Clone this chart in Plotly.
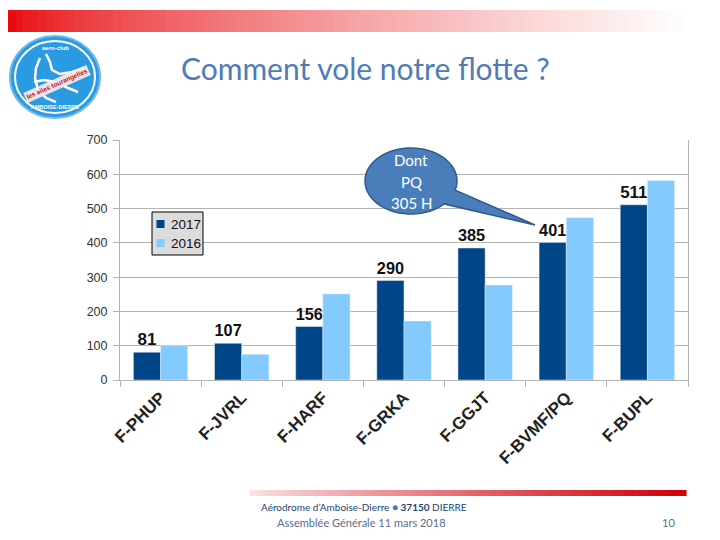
import math
import plotly.graph_objects as go

# ---------------- data ----------------
aircraft = ["F-PHUP", "F-JVRL", "F-HARF", "F-GRKA", "F-GGJT", "F-BVMF/PQ", "F-BUPL"]
hours_2017 = [81, 107, 156, 290, 385, 401, 511]
hours_2016 = [100, 75, 251, 172, 277, 473, 582]
y_tick_values = [0, 100, 200, 300, 400, 500, 600, 700]
series_names = ["2017", "2016"]
callout_lines = ["Dont", "PQ", "305 H"]

# ---------------- geometry helpers (pixel -> paper) ----------------
W, H = 720, 540
OFF = 8  # page body margin offset
L, T = 120 - OFF, 140 - OFF
PW, PH = 568, 240
R, B = W - L - PW, H - T - PH


def px(x):
    return (x - OFF - L) / PW


def py(y):
    return (T + PH - (y - OFF)) / PH


DARK = "#004586"
LIGHT = "#83caff"
FONT = "Liberation Sans, Arial, sans-serif"
SLIDE_FONT = "Lato, Open Sans, sans-serif"

fig = go.Figure()
fig.add_trace(go.Bar(
    name=series_names[0], x=aircraft, y=hours_2017, marker_color=DARK,
    text=hours_2017, texttemplate="<b>%{text}</b>", textposition="outside",
    textfont=dict(family=FONT, size=17, color="#111111"), cliponaxis=False,
    hoverinfo="x+y"))
fig.add_trace(go.Bar(
    name=series_names[1], x=aircraft, y=hours_2016, marker_color=LIGHT,
    hoverinfo="x+y"))

shapes = []
annotations = []

# header red gradient bar
N = 90
x_start, x_end = 8, 690
step = (x_end - x_start) / N
for i in range(N):
    t = i / (N - 1)
    f = t ** 0.7
    r = int(232 + (255 - 232) * f)
    g = int(10 + (255 - 10) * f)
    b = int(15 + (255 - 15) * f)
    x0 = x_start + i * step
    shapes.append(dict(type="rect", xref="paper", yref="paper",
                       x0=px(x0), x1=px(x0 + step + 0.6), y0=py(32), y1=py(10),
                       fillcolor=f"rgb({r},{g},{b})", line=dict(width=0)))

# footer gradient bar
N2 = 70
fx0, fx1 = 250, 686
step2 = (fx1 - fx0) / N2
for i in range(N2):
    t = i / (N2 - 1)
    f = t ** 0.9
    r = int(250 + (210 - 250) * f)
    g = int(225 + (0 - 225) * f)
    b = int(228 + (10 - 228) * f)
    x0 = fx0 + i * step2
    shapes.append(dict(type="rect", xref="paper", yref="paper",
                       x0=px(x0), x1=px(x0 + step2 + 0.6), y0=py(496), y1=py(490),
                       fillcolor=f"rgb({r},{g},{b})", line=dict(width=0)))

# logo
shapes.append(dict(type="circle", xref="paper", yref="paper",
                   x0=px(10), x1=px(100), y0=py(118), y1=py(36),
                   fillcolor="#2a9be2", line=dict(color="#6fb8ea", width=2)))
shapes.append(dict(type="circle", xref="paper", yref="paper",
                   x0=px(15), x1=px(95), y0=py(113), y1=py(41),
                   fillcolor="rgba(0,0,0,0)", line=dict(color="white", width=2)))


def poly(points):
    return "M " + " L ".join(f"{px(a):.5f},{py(b):.5f}" for a, b in points)


fish1 = [(40, 58), (36, 68), (35, 78), (38, 90), (46, 98), (56, 102)]
fish2 = [(46, 54), (50, 62), (52, 70), (60, 74), (72, 72), (84, 68)]
fish3 = [(34, 82), (44, 80), (56, 82), (68, 88), (78, 92)]
for fpts in (fish1, fish2, fish3):
    shapes.append(dict(type="path", xref="paper", yref="paper", path=poly(fpts),
                       line=dict(color="white", width=2.5)))

annotations.append(dict(xref="paper", yref="paper", x=px(55), y=py(48), text="<b>aero-club</b>",
                        showarrow=False, xanchor="center", yanchor="middle",
                        font=dict(family=FONT, size=6, color="white")))
annotations.append(dict(xref="paper", yref="paper", x=px(55), y=py(107), text="<b>AMBOISE-DIERRE</b>",
                        showarrow=False, xanchor="center", yanchor="middle",
                        font=dict(family=FONT, size=5.5, color="white")))
annotations.append(dict(xref="paper", yref="paper", x=px(57), y=py(84), text="<b>les ailes tourangelles</b>",
                        showarrow=False, xanchor="center", yanchor="middle", textangle=-24,
                        bgcolor="rgba(255,235,235,0.9)",
                        font=dict(family=FONT, size=6.5, color="#c01010")))

# title
annotations.append(dict(xref="paper", yref="paper", x=px(365), y=py(68), text="Comment vole notre flotte ?",
                        showarrow=False, xanchor="center", yanchor="middle",
                        font=dict(family=SLIDE_FONT, size=30, color="#4F7BB7")))

# legend (drawn)
shapes.append(dict(type="rect", xref="paper", yref="paper", x0=px(152), x1=px(203),
                   y0=py(255), y1=py(212), fillcolor="#dcdcdc", line=dict(color="black", width=1)))
for name, col, yc in ((series_names[0], DARK, 224), (series_names[1], LIGHT, 243)):
    shapes.append(dict(type="rect", xref="paper", yref="paper", x0=px(156.5), x1=px(164.5),
                       y0=py(yc + 4), y1=py(yc - 4), fillcolor=col, line=dict(width=0)))
    annotations.append(dict(xref="paper", yref="paper", x=px(168.5), y=py(yc), text=name,
                            showarrow=False, xanchor="left", yanchor="middle",
                            font=dict(family=FONT, size=13.5, color="#111111")))

# callout bubble
cx, cy, rx, ry = 411, 181, 46, 33
pts = []
a0, a1 = 44, 376
for k in range(0, 61):
    a = math.radians(a0 + (a1 - a0) * k / 60)
    pts.append((cx + rx * math.cos(a), cy + ry * math.sin(a)))
pts.append((535, 225))
shapes.append(dict(type="path", xref="paper", yref="paper", path=poly(pts) + " Z",
                   fillcolor="#4A7EBB", line=dict(color="#2F5A8C", width=1.5)))
for line_text, yl in zip(callout_lines, (160, 182, 203)):
    annotations.append(dict(xref="paper", yref="paper", x=px(411), y=py(yl), text=line_text,
                            showarrow=False, xanchor="center", yanchor="middle",
                            font=dict(family=SLIDE_FONT, size=15, color="white")))

# footer texts
annotations.append(dict(xref="paper", yref="paper", x=px(259), y=py(507),
                        text="Aérodrome d’Amboise-Dierre <span style='color:#3a78c8'>●</span> <b>37150</b> DIERRE",
                        showarrow=False, xanchor="left", yanchor="middle",
                        font=dict(family=SLIDE_FONT, size=10, color="#1F3F6E")))
annotations.append(dict(xref="paper", yref="paper", x=px(275), y=py(522),
                        text="Assemblée Générale 11 mars 2018",
                        showarrow=False, xanchor="left", yanchor="middle",
                        font=dict(family=SLIDE_FONT, size=11, color="#5A6E8C")))
annotations.append(dict(xref="paper", yref="paper", x=px(677), y=py(522), text="10",
                        showarrow=False, xanchor="right", yanchor="middle",
                        font=dict(family=SLIDE_FONT, size=11, color="#5A6E8C")))

fig.update_layout(
    width=W, height=H,
    margin=dict(l=L, r=R, t=T, b=B, autoexpand=False),
    paper_bgcolor="white", plot_bgcolor="white",
    barmode="group", bargap=0.33, bargroupgap=0,
    showlegend=False,
    shapes=shapes, annotations=annotations,
    xaxis=dict(
        type="category", tickangle=-45, tickson="boundaries", ticks="outside", ticklen=6,
        tickcolor="#b3b3b3", showgrid=False, showline=True, linecolor="#b3b3b3",
        tickfont=dict(family=FONT, size=17, color="#222222"),
        tickprefix="<b>", ticksuffix="</b>",
    ),
    yaxis=dict(
        range=[0, 700], tickvals=y_tick_values, ticks="outside", ticklen=6,
        tickcolor="#b3b3b3", showgrid=True, gridcolor="#b3b3b3", gridwidth=1,
        showline=True, linecolor="#b3b3b3", mirror=True, zeroline=False,
        ticklabelstandoff=3,
        tickfont=dict(family=FONT, size=12.5, color="#333333"),
    ),
)

fig.write_html("out.html")
